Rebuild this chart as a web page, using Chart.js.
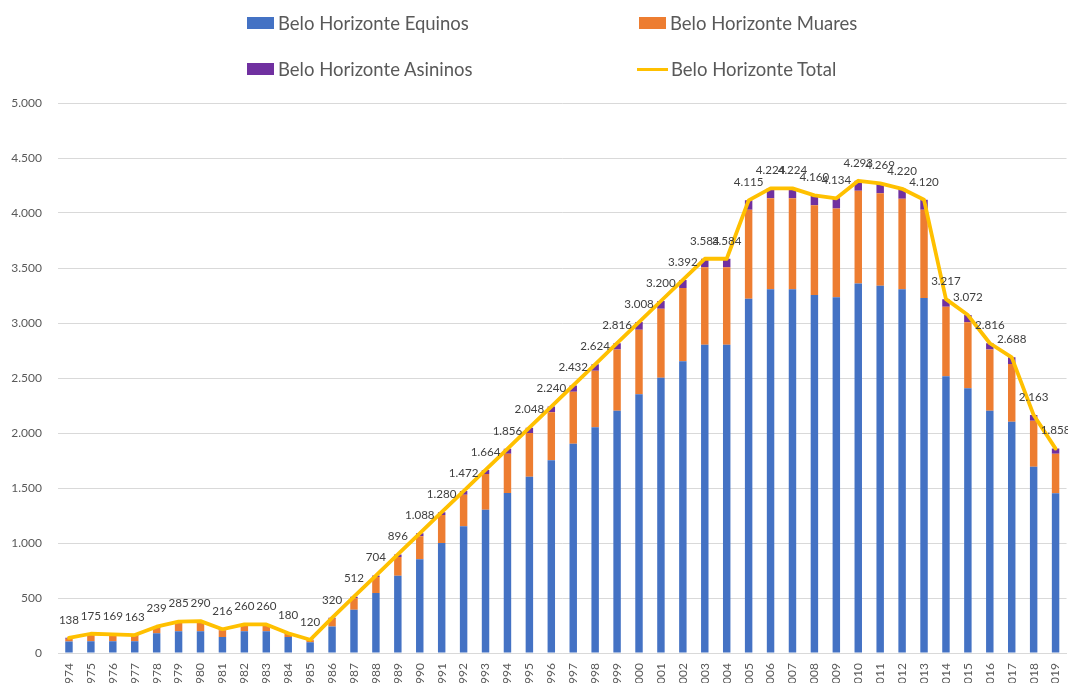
<!DOCTYPE html>
<html>
<head>
<meta charset="utf-8">
<script src="https://cdn.jsdelivr.net/npm/chart.js@4.4.1/dist/chart.umd.min.js"></script>
<style>
  html, body { margin: 0; padding: 0; background: #ffffff; overflow: hidden; width: 1068px; height: 683px; }
  #wrap { position: absolute; left: 0; top: 0; width: 1080px; height: 700px; }
  .leg { position: absolute; height: 24px; display: flex; align-items: center; white-space: nowrap;
         font-family: Lato, "Noto Sans", sans-serif; font-size: 18.5px; color: #595959; }
  .sw { display: inline-block; width: 27px; height: 12px; margin-right: 4px; }
  .ln { display: inline-block; width: 31px; height: 3px; margin-right: 3px; }
</style>
</head>
<body>
<div id="wrap"><canvas id="c" width="1080" height="700"></canvas></div>
<div class="leg" style="left:247px; top:11px;"><span class="sw" style="background:#4472C4"></span><span>Belo Horizonte Equinos</span></div>
<div class="leg" style="left:639px; top:11px;"><span class="sw" style="background:#ED7D31"></span><span>Belo Horizonte Muares</span></div>
<div class="leg" style="left:247px; top:57px;"><span class="sw" style="background:#7030A0"></span><span>Belo Horizonte Asininos</span></div>
<div class="leg" style="left:637px; top:57px;"><span class="ln" style="background:#FFC000"></span><span>Belo Horizonte Total</span></div>
<script>
const years = ['1974','1975','1976','1977','1978','1979','1980','1981','1982','1983',
  '1984','1985','1986','1987','1988','1989','1990','1991','1992','1993',
  '1994','1995','1996','1997','1998','1999','2000','2001','2002','2003',
  '2004','2005','2006','2007','2008','2009','2010','2011','2012','2013',
  '2014','2015','2016','2017','2018','2019'];

const equinos = [105,106,106,106,180,197,197,145,197,197,
  145,97,242,394,545,703,852,1000,1152,1303,
  1455,1603,1752,1903,2052,2203,2352,2503,2652,2803,
  2803,3221,3306,3306,3255,3233,3358,3339,3306,3227,
  2515,2406,2203,2103,1694,1452];

const muares = [25,60,55,50,50,75,80,62,52,52,
  28,18,70,104,145,170,209,255,287,324,
  357,397,436,473,515,555,587,627,666,703,
  703,809,827,827,815,809,845,840,824,803,
  633,600,555,524,418,360];

const asininos = [8,9,8,7,9,13,13,9,11,11,
  7,5,8,14,14,23,27,25,33,37,
  44,48,52,56,57,58,69,70,74,78,
  78,85,91,91,90,92,90,90,90,90,
  69,66,58,61,51,46];

const total = [138,175,169,163,239,285,290,216,260,260,
  180,120,320,512,704,896,1088,1280,1472,1664,
  1856,2048,2240,2432,2624,2816,3008,3200,3392,3584,
  3584,4115,4224,4224,4160,4134,4293,4269,4220,4120,
  3217,3072,2816,2688,2163,1858];

const fmt = n => String(Math.round(n)).replace(/\B(?=(\d{3})+(?!\d))/g, '.');
const FONT = 'Lato, "Noto Sans", sans-serif';

const totalLabels = {
  id: 'totalLabels',
  afterDatasetsDraw(chart) {
    const meta = chart.getDatasetMeta(3);
    const ctx = chart.ctx;
    ctx.save();
    ctx.font = '11.6px ' + FONT;
    ctx.fillStyle = '#404040';
    ctx.textAlign = 'center';
    ctx.textBaseline = 'middle';
    meta.data.forEach((pt, i) => {
      ctx.fillText(fmt(total[i]), pt.x, pt.y - 18);
    });
    ctx.restore();
  }
};

const barCommon = { barPercentage: 0.34, categoryPercentage: 1.0, stack: 'animals', order: 1, borderWidth: 0 };

new Chart(document.getElementById('c'), {
  type: 'bar',
  data: {
    labels: years,
    datasets: [
      Object.assign({ label: 'Belo Horizonte Equinos', data: equinos, backgroundColor: '#4472C4' }, barCommon),
      Object.assign({ label: 'Belo Horizonte Muares', data: muares, backgroundColor: '#ED7D31' }, barCommon),
      Object.assign({ label: 'Belo Horizonte Asininos', data: asininos, backgroundColor: '#7030A0' }, barCommon),
      { type: 'line', label: 'Belo Horizonte Total', data: total, borderColor: '#FFC000', backgroundColor: '#FFC000',
        borderWidth: 3.8, pointRadius: 0, tension: 0, stack: 'total', order: 0,
        borderJoinStyle: 'round', borderCapStyle: 'round' }
    ]
  },
  options: {
    responsive: false,
    animation: false,
    devicePixelRatio: 1,
    layout: { padding: { top: 103, right: 2, left: 0, bottom: 0 } },
    plugins: { legend: { display: false }, tooltip: { enabled: false } },
    scales: {
      x: {
        stacked: true,
        grid: { display: false, drawTicks: false },
        border: { display: true, color: '#D9D9D9' },
        ticks: { autoSkip: false, minRotation: 90, maxRotation: 90, padding: 10,
                 color: '#595959', font: { family: FONT, size: 12 } },
        afterFit: s => { s.height = 47; }
      },
      y: {
        stacked: true,
        min: 0, max: 5000,
        grid: { color: '#D9D9D9', drawTicks: false },
        border: { display: false },
        ticks: { stepSize: 500, padding: 16, color: '#595959', font: { family: FONT, size: 12 },
                 callback: v => fmt(v) },
        afterFit: s => { s.width = 58; }
      }
    }
  },
  plugins: [totalLabels]
});
</script>
</body>
</html>
